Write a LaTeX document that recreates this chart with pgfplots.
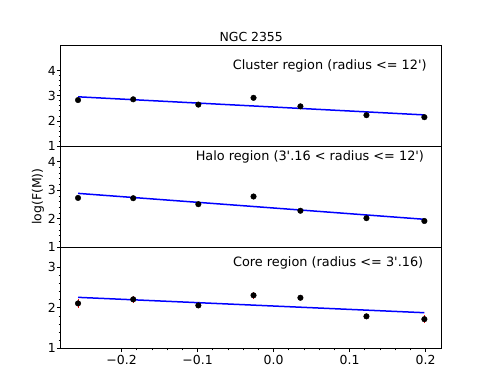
\documentclass[border=0pt]{standalone}
\usepackage{fontspec}
\setmainfont{DejaVu Sans}[Ligatures=TeXOff]
\usepackage{pgfplots}
\pgfplotsset{compat=1.18}

\pgfplotsset{
  panel/.style={
    scale only axis, width=381bp, height=101.1bp,
    xmin=-0.2801, xmax=0.2212,
    anchor=north west,
    axis line style={line width=0.8bp},
    tick align=outside, ytick pos=left,
    major tick length=3.7bp, minor tick length=2.1bp,
    minor y tick num=4,
    tick style={black, line width=0.8bp},
    ticklabel style={font=\fontsize{12.5}{14}\selectfont},
    yticklabel style={inner sep=1bp},
    label style={font=\fontsize{12.5}{14}\selectfont},
    /pgf/number format/assume math mode=true,
    clip=false,
  },
  upper/.style={panel, xtick=\empty, minor xtick=\empty},
  fit/.style={blue, line width=1.5bp},
  pts/.style={only marks, mark=*, mark size=2.8bp, black},
}
\tikzset{ann/.style={anchor=east, inner sep=0pt, font=\fontsize{12.9}{15}\selectfont}}

\begin{document}
\begin{tikzpicture}
\path[use as bounding box] (0,0) rectangle (491bp,392bp);

\node[anchor=base, font=\fontsize{12.5}{14}\selectfont] at (251.2bp,350.3bp) {NGC 2355};

% cluster region
\begin{axis}[upper, at={(60.7bp,347bp)}, ymin=1, ymax=5.02, ytick={1,2,3,4}]
  \addplot[fit] coordinates {(-0.2573,2.96) (0.1984,2.24)};
  \addplot[pts] coordinates {
    (-0.2573,2.83) (-0.1847,2.86) (-0.0990,2.65) (-0.0264,2.92)
    (0.0353,2.58) (0.1222,2.23) (0.1984,2.15)
  };
  \node[ann] at (rel axis cs:0.961,0.795) {Cluster region (radius <= 12')};
\end{axis}

% halo region
\begin{axis}[upper, at={(60.7bp,245.9bp)}, ymin=1, ymax=4.55, ytick={1,2,3,4},
  ylabel={log(F(M))}, ylabel style={at={(axis description cs:-0.0596,0.5)}, anchor=center}]
  \addplot[fit] coordinates {(-0.2573,2.89) (0.1984,1.98)};
  \addplot[pts] coordinates {
    (-0.2573,2.73) (-0.1847,2.72) (-0.0990,2.51) (-0.0264,2.78)
    (0.0353,2.28) (0.1222,2.02) (0.1984,1.92)
  };
  \node[ann] at (rel axis cs:0.954,0.895) {Halo region (3'.16 < radius <= 12')};
\end{axis}

% core region
\begin{axis}[panel, at={(60.7bp,144.8bp)}, ymin=1, ymax=3.5, ytick={1,2,3},
  xtick pos=bottom, xtick={-0.2,-0.1,0,0.1,0.2}, minor x tick num=4,
  xticklabels={−0.2,−0.1,0.0,0.1,0.2}]
  \addplot[red, line width=1bp, only marks, mark=none,
    error bars/.cd, y dir=both, y explicit, error mark=none,
    error bar style={red, line width=1bp}]
    coordinates {
    (-0.2573,2.11) +- (0,0.11)
    (-0.1847,2.21) +- (0,0.09)
    (-0.0990,2.06) +- (0,0.06)
    (-0.0264,2.31) +- (0,0.08)
    (0.0353,2.25) +- (0,0.05)
    (0.1222,1.79) +- (0,0.07)
    (0.1984,1.72) +- (0,0.10)
  };
  \addplot[fit] coordinates {(-0.2573,2.26) (0.1984,1.88)};
  \addplot[pts] coordinates {
    (-0.2573,2.11) (-0.1847,2.21) (-0.0990,2.06) (-0.0264,2.31)
    (0.0353,2.25) (0.1222,1.79) (0.1984,1.72)
  };
  \node[ann] at (rel axis cs:0.952,0.845) {Core region (radius <= 3'.16)};
\end{axis}
\end{tikzpicture}
\end{document}
